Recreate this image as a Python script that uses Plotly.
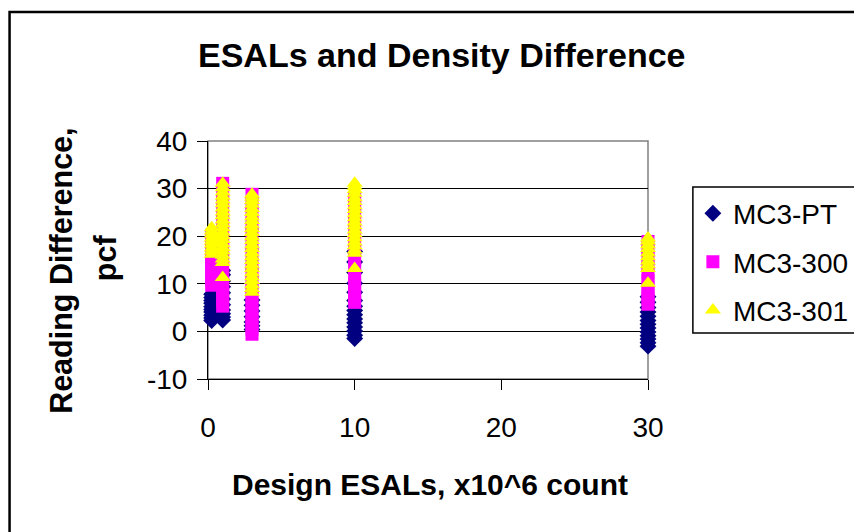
import plotly.graph_objects as go

# design ESAL levels (x10^6)
esals = [0.25, 1, 3, 10, 30]

# y-axis ticks (Excel shows a plain hyphen for negatives)
y_ticks = [-10, 0, 10, 20, 30, 40]
y_tick_text = ["-10", "0", "10", "20", "30", "40"]

# MC3-PT reading differences, one list per ESAL level
pt_025 = [2.3, 2.8, 3.4, 4.1, 4.6, 5.2, 5.9, 6.5, 7.1, 7.8]
pt_1 = [2.4, 3.0, 3.7, 4.5, 5.6, 6.8, 8.1, 9.4, 10.6, 11.9, 12.8]
pt_3 = [0.4, 1.2, 2.0, 3.1, 4.3, 5.5, 6.6]
pt_10 = [-1.5, -0.8, 0.1, 0.9, 1.8, 2.6, 3.5, 4.4, 5.3, 6.5, 8.2, 10.1, 12.4, 14.6, 16.8]
pt_30 = [-3.1, -2.4, -1.6, -0.9, -0.1, 0.7, 1.5, 2.3, 3.2, 4.1, 5.0, 6.1, 7.3]

# MC3-300
m300_025 = [9.7, 10.8, 12.1, 13.5, 14.7, 16.0, 17.4, 18.9, 20.2]
m300_1 = [5.3, 6.4, 7.6, 8.9, 10.2, 11.8, 13.5, 15.3, 17.2, 19.1, 21.0, 23.2, 25.3, 27.5, 29.4, 31.1]
m300_3 = [-0.6, 0.5, 1.7, 2.9, 4.2, 5.6, 7.0, 8.6, 10.3, 12.1, 14.0, 16.2, 18.3, 20.5, 22.6, 24.8, 26.9, 28.8]
m300_10 = [6.1, 7.3, 8.6, 10.0, 11.6, 13.2, 15.0, 16.9, 18.8, 20.7, 22.8, 24.9, 26.6, 28.0]
m300_30 = [5.7, 6.8, 8.0, 9.3, 10.7, 12.2, 13.8, 15.4, 17.1, 18.9]

# MC3-301
m301_025 = [16.2, 16.9, 17.5, 18.3, 19.0, 19.6, 20.4, 21.1, 21.8]
m301_1 = [11.3, 14.5, 15.2, 16.0, 16.9, 17.6, 18.4, 19.3, 20.1, 20.9, 21.8, 22.6,
          23.4, 24.3, 25.1, 25.9, 26.8, 27.6, 28.4, 29.3, 30.2, 31.1]
m301_3 = [8.2, 9.0, 9.8, 10.7, 11.5, 12.3, 13.2, 14.0, 14.9, 15.7, 16.5, 17.4, 18.2,
          19.1, 19.9, 20.8, 21.6, 22.4, 23.3, 24.1, 25.0, 25.8, 26.7, 27.5, 28.2, 28.8]
m301_10 = [13.2, 16.4, 17.1, 18.0, 18.8, 19.7, 20.5, 21.3, 22.2, 23.0, 23.9, 24.7,
           25.6, 26.4, 27.3, 28.1, 29.0, 29.8, 30.5, 31.1]
m301_30 = [10.1, 13.2, 14.0, 14.8, 15.7, 16.5, 17.4, 18.2, 19.0, 19.6]

series = [
    ("MC3-PT", [pt_025, pt_1, pt_3, pt_10, pt_30], "diamond", "#000080", 13),
    ("MC3-300", [m300_025, m300_1, m300_3, m300_10, m300_30], "square", "#FF00FF", 13),
    ("MC3-301", [m301_025, m301_1, m301_3, m301_10, m301_30], "triangle-up", "#FFFF00", 14),
]

FONT = "Liberation Sans, Arial, sans-serif"

fig = go.Figure()
for name, cols, symbol, color, size in series:
    xs, ys = [], []
    for level, vals in zip(esals, cols):
        xs += [level] * len(vals)
        ys += vals
    fig.add_trace(go.Scatter(
        x=xs, y=ys, mode="markers", name=name, legendgroup=name,
        marker=dict(symbol=symbol, size=size, color=color, line=dict(width=0)),
        cliponaxis=False,
    ))

# plot area ends up at x 208..648 px, y 141..379 px on the page (8px body margin)
fig.update_layout(
    width=862, height=532,
    margin=dict(l=200, r=222, t=133, b=161, autoexpand=False),
    paper_bgcolor="white", plot_bgcolor="white",
    font=dict(family=FONT, size=28, color="black"),
    showlegend=True,
    legend=dict(x=1.102, y=0.80, xanchor="left", yanchor="top",
                bgcolor="rgba(0,0,0,0)", borderwidth=0,
                tracegroupgap=9, font=dict(size=28)),
    xaxis=dict(range=[0, 30], dtick=10, tick0=0, showgrid=False, zeroline=False,
               showline=True, linecolor="black", linewidth=1, mirror=False,
               ticks="outside", ticklen=10, tickcolor="black",
               ticklabelstandoff=13, layer="below traces"),
    yaxis=dict(range=[-10, 40], tickvals=y_ticks, ticktext=y_tick_text,
               showgrid=True, gridcolor="black",
               gridwidth=1, zeroline=False, showline=True, linecolor="black",
               linewidth=1, ticks="outside", ticklen=10, tickcolor="black",
               ticklabelstandoff=4, layer="below traces"),
    shapes=[
        # grey plot-area border
        dict(type="rect", xref="paper", yref="paper", x0=0, y0=0, x1=1, y1=1,
             line=dict(color="#808080", width=1.5), layer="below"),
        # outer chart frame
        dict(type="rect", xref="paper", yref="paper", x0=-0.451, y0=-0.676,
             x1=1.505, y1=1.542, line=dict(color="black", width=2.5)),
        # legend frame
        dict(type="rect", xref="paper", yref="paper", x0=1.102, y0=0.193,
             x1=1.6, y1=0.807, line=dict(color="black", width=1.5)),
    ],
    annotations=[
        dict(text="<b>ESALs and Density Difference</b>", xref="paper", yref="paper",
             x=0.53, y=1.361, xanchor="center", yanchor="middle", showarrow=False,
             font=dict(size=34)),
        dict(text="<b>Design ESALs, x10^6 count</b>", xref="paper", yref="paper",
             x=0.505, y=-0.445, xanchor="center", yanchor="middle", showarrow=False,
             font=dict(size=30)),
        dict(text="<b>Reading Difference,</b>", xref="paper", yref="paper",
             x=-0.332, y=0.454, xanchor="center", yanchor="middle", showarrow=False,
             textangle=-90, font=dict(size=30.5)),
        dict(text="<b>pcf</b>", xref="paper", yref="paper",
             x=-0.234, y=0.508, xanchor="center", yanchor="middle", showarrow=False,
             textangle=-90, font=dict(size=30.5)),
    ],
)

fig.write_html("out.html")
